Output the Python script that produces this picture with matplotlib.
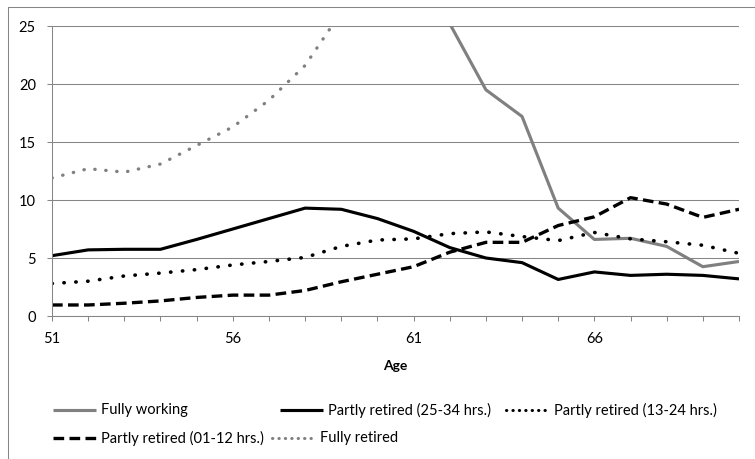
import numpy as np
import matplotlib.pyplot as plt
from matplotlib.lines import Line2D

plt.rcParams['font.family'] = ['Lato', 'DejaVu Sans']

# Share of people by labour status, ages 51-70 (%)
ages = list(range(51, 71))
fully_working = [79.2, 77.7, 77.3, 76.2, 73.1, 70.0, 66.5, 61.8, 55.3, 47.0,
                 36.0, 25.2, 19.5, 17.2, 9.3, 6.6, 6.7, 6.0, 4.25, 4.7]
partly_25_34 = [5.2, 5.7, 5.75, 5.75, 6.6, 7.5, 8.4, 9.3, 9.2, 8.4,
                7.3, 5.9, 5.0, 4.6, 3.15, 3.8, 3.5, 3.6, 3.5, 3.2]
partly_13_24 = [2.8, 3.0, 3.45, 3.7, 4.0, 4.4, 4.7, 5.05, 6.0, 6.55,
                6.65, 7.1, 7.25, 6.85, 6.5, 7.2, 6.65, 6.4, 6.1, 5.4]
partly_01_12 = [0.95, 0.95, 1.1, 1.3, 1.6, 1.8, 1.8, 2.2, 2.95, 3.6,
                4.25, 5.5, 6.35, 6.35, 7.8, 8.55, 10.2, 9.65, 8.5, 9.2]
fully_retired = [11.9, 12.7, 12.4, 13.1, 14.7, 16.3, 18.6, 21.6, 26.2, 34.4,
                 45.7, 56.2, 61.9, 65.0, 73.2, 73.8, 73.0, 74.3, 77.6, 77.5]

labels = ["Fully working", "Partly retired (25-34 hrs.)", "Partly retired (13-24 hrs.)",
          "Partly retired (01-12 hrs.)", "Fully retired"]
series = [fully_working, partly_25_34, partly_13_24, partly_01_12, fully_retired]

gray = "#808080"
axis_gray = "#868686"
dot = (0, (0.1, 3.2))
dash = (0, (3.2, 1.6))
styles = [
    dict(color=gray, linestyle="-", linewidth=2.25),
    dict(color="black", linestyle="-", linewidth=2.25),
    dict(color="black", linestyle=dot, linewidth=2.6, dash_capstyle="round"),
    dict(color="black", linestyle=dash, linewidth=2.4),
    dict(color=gray, linestyle=dot, linewidth=2.4, dash_capstyle="round"),
]

W, H = 755, 459
fig = plt.figure(figsize=(W / 100, H / 100), dpi=100)


def px(x, y):
    return x / W, 1 - y / H


ax = fig.add_axes([52 / W, 1 - 316 / H, (739 - 52) / W, (316 - 26) / H])

for vals, st in zip(series, styles):
    ax.plot(ages, vals, solid_capstyle="butt", **st)

ax.set_xlim(51, 70)
ax.set_ylim(0, 25)
ax.set_xticks([51, 56, 61, 66])
ax.set_xticks(ages, minor=True)
ax.set_yticks(np.arange(0, 26, 5))
ax.tick_params(axis="both", which="both", direction="out", length=3.6,
               width=0.75, color=axis_gray, labelsize=10.5, labelcolor="black")
ax.tick_params(axis="x", pad=8)
ax.tick_params(axis="y", pad=8)
ax.grid(axis="y", color=axis_gray, linewidth=0.75)
ax.set_axisbelow(True)
for side in ["top", "right"]:
    ax.spines[side].set_visible(False)
for side in ["left", "bottom"]:
    ax.spines[side].set_color(axis_gray)
    ax.spines[side].set_linewidth(0.75)
ax.set_xlabel("Age", fontsize=10, fontweight="bold", labelpad=10)

# legend laid out in rows, left to right; dotted samples use a tighter dot
legend_pos = [(53, 410), (280, 410), (506, 410), (53, 438), (272, 438)]
handle_len = 43
for (hx, hy), lab, st in zip(legend_pos, labels, styles):
    st = dict(st)
    if st["linestyle"] == dot:
        st["linestyle"] = (0, (0.1, 2.0))
        st["linewidth"] = 2.2
    x0, y0 = px(hx, hy)
    x1, _ = px(hx + handle_len, hy)
    fig.add_artist(Line2D([x0, x1], [y0, y0], transform=fig.transFigure,
                          solid_capstyle="butt", **st))
    tx, ty = px(hx + handle_len + 5, hy)
    fig.text(tx, ty, lab, fontsize=10.5, va="center", ha="left")

# chart area border
fig.add_artist(Line2D([8 / W, 1.01], [1 - 7 / H, 1 - 7 / H], transform=fig.transFigure,
                      color=axis_gray, linewidth=0.75))
fig.add_artist(Line2D([8 / W, 8 / W], [1 - 7 / H, -0.01], transform=fig.transFigure,
                      color=axis_gray, linewidth=0.75))

fig.savefig("out.png", dpi=100)
